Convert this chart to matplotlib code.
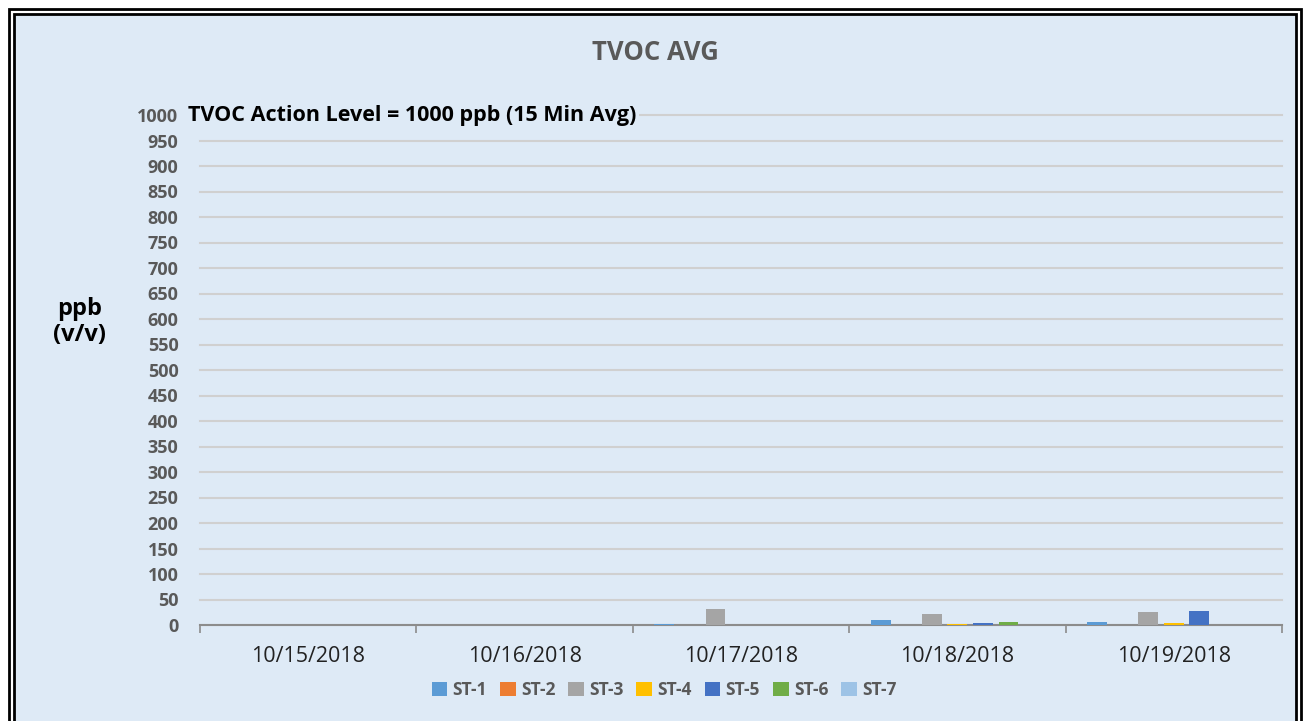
import numpy as np
import matplotlib
matplotlib.use("Agg")
import matplotlib.pyplot as plt
from matplotlib.patches import Rectangle
from matplotlib.patches import Patch

plt.rcParams['font.family'] = ['Open Sans', 'DejaVu Sans']

# data
dates = ['10/15/2018', '10/16/2018', '10/17/2018', '10/18/2018', '10/19/2018']
stations = ['ST-1', 'ST-2', 'ST-3', 'ST-4', 'ST-5', 'ST-6', 'ST-7']
st1 = [0.5, 0.3, 2, 9, 6]
st2 = [0, 0, 0, 0, 0]
st3 = [0.3, 0.3, 31, 21, 26]
st4 = [0, 0, 0.5, 2, 3]
st5 = [0, 0, 0, 3, 27]
st6 = [0, 0, 0, 5, 0]
st7 = [0, 0, 0, 0, 0]
colors = ['#5B9BD5', '#ED7D31', '#A5A5A5', '#FFC000', '#4472C4', '#70AD47', '#9DC3E6']
yticks = list(range(0, 1001, 50))

bg = '#DEEAF6'
gray_txt = '#595959'

fig = plt.figure(figsize=(13.09, 7.21), dpi=100)
fig.patch.set_facecolor('white')

# double border around the chart
W, H = 1309, 721
fig.patches.append(Rectangle((9 / W, -0.05), 1 - 17 / W, 1.05 - 9 / H, transform=fig.transFigure,
                             fill=False, edgecolor='#000000', linewidth=2.0, zorder=0))
fig.patches.append(Rectangle((14 / W, -0.05), 1 - 27 / W, 1.05 - 14 / H, transform=fig.transFigure,
                             facecolor=bg, edgecolor='#000000', linewidth=2.0, zorder=0))

ax = fig.add_axes([200 / W, 1 - 625 / H, 1082 / W, 510 / H])
ax.set_zorder(2)
ax.set_facecolor(bg)
ax.patch.set_alpha(0)

series = [st1, st2, st3, st4, st5, st6, st7]
x = np.arange(len(dates))
pitch = 0.118
width = 0.092
for i, (vals, c) in enumerate(zip(series, colors)):
    ax.bar(x + (i - 3) * pitch, vals, width=width, color=c, zorder=3, label=stations[i])

ax.set_xlim(-0.5, len(dates) - 0.5)
ax.set_ylim(0, 1000)
ax.set_yticks(yticks)
ax.set_yticklabels([str(t) for t in yticks], fontsize=13, fontweight='bold', color=gray_txt)
ax.yaxis.grid(True, color='#D0D0D0', linewidth=1.5, zorder=0)
for gl in ax.get_ygridlines():
    gl.set_clip_on(False)
ax.tick_params(axis='y', length=0, pad=15.5)

ax.set_xticks(x)
ax.set_xticklabels(dates, fontsize=15.5, color='#222222')
ax.set_xticks(np.arange(-0.5, len(dates), 1), minor=True)
ax.tick_params(axis='x', which='major', length=0, pad=15)
ax.tick_params(axis='x', which='minor', length=6, width=1.2, color='#8C8C8C')

for s in ['top', 'right', 'left']:
    ax.spines[s].set_visible(False)
ax.spines['bottom'].set_color('#8C8C8C')
ax.spines['bottom'].set_linewidth(1.5)
ax.set_axisbelow(True)

ax.annotate('TVOC Action Level = 1000 ppb (15 Min Avg)', xy=(0, 1000),
            xycoords=('axes fraction', 'data'), xytext=(-12, 0), textcoords='offset pixels',
            ha='left', va='center', fontsize=15.5, fontweight='bold', color='black',
            bbox=dict(boxstyle='square,pad=0.1', facecolor=bg, edgecolor='none'), zorder=5)

fig.text(655 / W, 1 - 52 / H, 'TVOC AVG', ha='center', va='center',
         fontsize=18.5, fontweight='bold', color=gray_txt)
fig.text(80 / W, 1 - 322 / H, 'ppb\n(v/v)', ha='center', va='center',
         fontsize=17, fontweight='bold', color='black', linespacing=1.15)

handles = [Patch(facecolor=c) for c in colors]
leg = fig.legend(handles, stations, loc='center', bbox_to_anchor=(664 / W, 1 - 690 / H), ncol=7,
                 frameon=False, handlelength=0.9, handleheight=0.9, handletextpad=0.3,
                 columnspacing=0.75, prop={'size': 12.5, 'weight': 'bold'})
for t in leg.get_texts():
    t.set_color(gray_txt)

fig.savefig('out.png', dpi=100, facecolor=fig.get_facecolor())
